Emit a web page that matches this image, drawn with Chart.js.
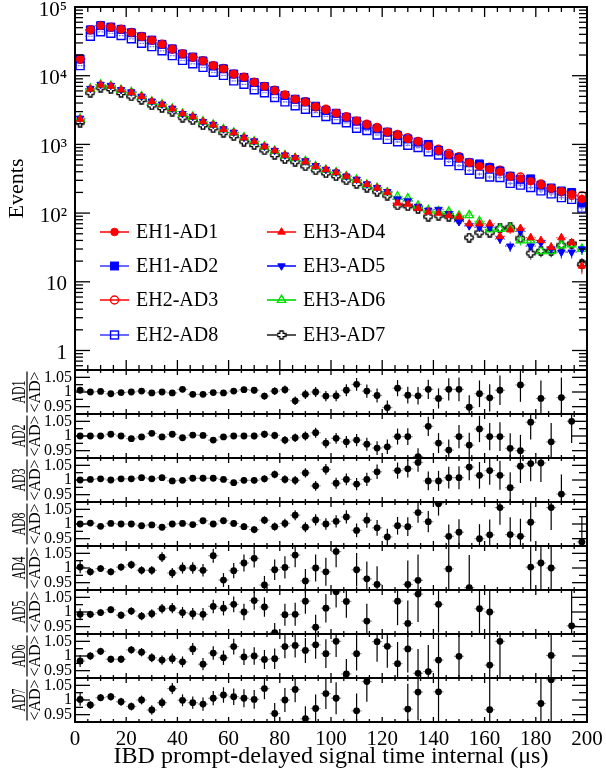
<!DOCTYPE html>
<html>
<head>
<meta charset="utf-8">
<script src="https://cdn.jsdelivr.net/npm/chart.js@4.4.1/dist/chart.umd.min.js"></script>
<style>
  html, body { margin: 0; padding: 0; background: #fff; }
  #wrap { position: relative; width: 606px; height: 773px; }
</style>
</head>
<body>
<div id="wrap"><canvas id="c" width="606" height="773"></canvas></div>
<script>
// bin centres (us)
const timeBins = [2, 6, 10, 14, 18, 22, 26, 30, 34, 38, 42, 46, 50, 54, 58, 62, 66, 70, 74, 78,
  82, 86, 90, 94, 98, 102, 106, 110, 114, 118, 122, 126, 130, 134, 138, 142, 146, 150, 154, 158,
  162, 166, 170, 174, 178, 182, 186, 190, 194, 198];

const seriesNames = ['EH1-AD1', 'EH1-AD2', 'EH2-AD3', 'EH2-AD8', 'EH3-AD4', 'EH3-AD5', 'EH3-AD6', 'EH3-AD7'];

// events per bin, top panel
const eventsAD1 = [17500, 46400, 53500, 50700, 47300, 42400, 37000, 32800, 28700, 24500,
  20800, 18600, 16400, 14000, 12600, 10600, 9500, 8000, 6950, 6070,
  5250, 4550, 4110, 3560, 3180, 2850, 2500, 2200, 1950, 1720,
  1520, 1360, 1200, 1100, 950, 810, 710, 625, 540, 480,
  440, 400, 340, 318, 290, 258, 230, 208, 188, 160];
const eventsAD2 = [17600, 46500, 53600, 51000, 47300, 42200, 36900, 33000, 28600, 24600,
  20700, 18700, 16400, 13800, 12600, 10600, 9450, 7950, 6950, 6050,
  5150, 4550, 4140, 3600, 3100, 2840, 2480, 2180, 1900, 1680,
  1510, 1340, 1200, 1080, 1000, 820, 700, 640, 540, 520,
  460, 410, 345, 310, 315, 255, 232, 210, 200, 140];
const eventsAD3 = [17300, 46200, 53700, 50600, 47500, 42500, 37200, 32700, 28800, 24300,
  20800, 18500, 16500, 14000, 12700, 10500, 9500, 8050, 6980, 6150,
  5250, 4520, 4200, 3500, 3250, 2830, 2520, 2180, 1960, 1760,
  1500, 1400, 1250, 1100, 960, 850, 740, 660, 545, 500,
  465, 420, 345, 335, 305, 265, 228, 205, 182, 178];
const eventsAD8 = [14000, 37500, 43500, 41500, 38400, 34400, 29600, 26500, 23000, 19600,
  16700, 14900, 13200, 11200, 10100, 8400, 7500, 6250, 5650, 4800,
  4150, 3650, 3250, 2900, 2550, 2300, 2060, 1720, 1590, 1370,
  1180, 1090, 970, 900, 780, 700, 560, 490, 420, 370,
  335, 330, 270, 255, 235, 210, 190, 168, 158, 118];
const eventsAD4 = [2330, 6400, 7350, 7050, 6250, 5700, 5000, 4250, 3800, 3300,
  2800, 2530, 2150, 1920, 1650, 1480, 1250, 1100, 930, 810,
  700, 640, 560, 480, 430, 390, 345, 300, 262, 232,
  200, 140, 135, 118, 104, 100, 92, 88, 70, 70,
  70, 46, 57, 60, 44, 40, 32, 44, 37, 17];
const eventsAD5 = [2400, 6500, 7450, 7200, 6250, 5800, 5000, 4250, 3850, 3350,
  2800, 2550, 2150, 1950, 1680, 1500, 1260, 1120, 940, 815,
  700, 640, 575, 490, 432, 395, 345, 310, 265, 235,
  205, 160, 150, 125, 110, 113, 98, 75, 65, 62,
  62, 42, 33, 54, 33, 37, 30, 27, 27, 30];
const eventsAD6 = [2350, 6450, 7400, 7100, 6200, 5750, 5000, 4200, 3800, 3300,
  2780, 2520, 2150, 1930, 1660, 1480, 1260, 1100, 930, 805,
  690, 630, 570, 480, 425, 392, 342, 305, 260, 232,
  200, 174, 163, 128, 110, 106, 105, 92, 93, 76,
  58, 59, 60, 40, 40, 28, 28, 34, 35, 30];
const eventsAD7 = [2080, 5650, 6700, 6400, 5600, 5000, 4450, 3700, 3400, 3000,
  2450, 2250, 1900, 1720, 1480, 1320, 1100, 980, 820, 700,
  610, 560, 480, 420, 380, 345, 300, 265, 235, 205,
  180, 129, 126, 115, 89, 92, 89, 82, 44, 52,
  52, 60, 62, 43, 26, 28, 28, 34, 36, 18];

// AD / <AD> ratio panels (null = outside the panel range)
const ratioNames = ['AD1', 'AD2', 'AD3', 'AD8', 'AD4', 'AD5', 'AD6', 'AD7'];
const ratioAD1 = [1.006, 1.0, 1.002, 0.994, 0.998, 1.0, 1.003, 0.997, 1.0, 0.997,
  1.009, 0.992, 0.992, 0.998, 0.997, 1.003, 1.008, 1.006, 0.986, 1.003,
  1.008, 0.970, 0.992, 1.0, 0.986, 0.987, 1.006, 1.026, 1.003, 0.988,
  0.947, 1.013, 0.989, 0.987, 1.009, 0.978, 1.009, 1.009, 0.948, 0.994,
  0.980, 1.006, null, 1.024, null, 0.978, null, 0.981, null, null];
const ratioAD2 = [1.0, 1.0, 1.0, 1.006, 1.0, 0.991, 0.997, 1.009, 0.997, 1.006,
  0.994, 1.003, 1.002, 0.986, 0.997, 1.0, 1.0, 1.0, 1.006, 1.002,
  0.986, 0.994, 1.0, 1.011, 0.976, 0.992, 0.980, 0.986, 0.972, 0.959,
  0.963, 0.998, 0.998, 0.930, 1.033, 0.976, 0.952, 0.998, 0.969, 1.024,
  0.998, 0.998, 0.958, 0.950, 1.047, null, 0.980, null, 1.050, null];
const ratioAD3 = [1.0, 1.002, 1.004, 1.0, 1.004, 1.004, 1.008, 1.004, 1.008, 0.997,
  0.999, 1.006, 1.006, 1.006, 1.002, 0.991, 0.999, 0.999, 1.004, 1.019,
  1.002, 0.999, 1.024, 0.980, 1.036, 0.989, 1.002, 0.986, 1.002, 1.028,
  null, 1.032, 1.038, 1.060, 0.997, 0.997, 1.008, 1.008, 1.044, 1.016,
  1.032, 1.016, 0.974, 1.047, 1.056, 1.058, null, 0.952, null, null];
const ratioAD8 = [1.0, 1.003, 0.992, 1.002, 1.0, 1.0, 0.994, 0.997, 0.989, 1.0,
  1.002, 0.998, 1.011, 1.0, 1.011, 1.002, 0.991, 0.981, 1.013, 0.991,
  1.002, 1.030, 0.989, 1.014, 1.0, 1.009, 1.024, 0.978, 1.013, 0.987,
  0.956, 0.994, 0.991, 1.039, 1.008, 1.069, 0.958, 0.972, null, 0.950,
  0.963, 1.056, 0.964, 0.958, 1.006, null, 1.056, null, null, 0.939];
const ratioAD4 = [1.003, 0.987, 0.998, 0.987, 1.003, 1.011, 0.992, 0.992, 1.037, 0.983,
  1.0, 1.0, 0.992, 1.042, 0.959, 0.991, 1.017, 1.033, 0.942, 0.994,
  1.002, 1.044, 0.956, 1.0, 0.987, 1.056, null, 0.994, 0.963, 0.944,
  null, null, 0.944, 0.958, null, null, 0.997, null, 0.933, null,
  null, null, null, null, 1.003, 1.017, 1.0, null, null, null];
const ratioAD5 = [0.992, 0.992, 0.998, 1.008, 0.989, 1.003, 0.986, 0.994, 1.011, 1.013,
  0.998, 0.994, 0.992, 1.019, 1.013, 1.026, 1.0, 1.039, 1.017, 0.930,
  0.991, 0.992, 1.037, 0.948, 1.013, 1.069, 1.036, null, 0.969, null,
  null, 1.037, 0.961, 1.061, null, 1.026, null, null, null, 1.011,
  1.0, null, null, null, null, null, null, null, 0.953, null];
const ratioAD6 = [0.983, 1.0, 1.016, 0.989, 0.989, 1.021, 1.013, 0.994, 0.986, 0.991,
  0.980, 1.024, 0.972, 1.010, 0.994, 1.032, 0.997, 1.0, 0.988, 0.991,
  1.032, 1.036, 1.019, 1.038, 1.008, 1.050, 0.939, 1.008, null, 1.049,
  1.033, 0.974, 1.024, 0.941, 0.947, 0.986, null, 0.999, null, null,
  0.969, 1.050, null, null, null, null, 1.002, null, null, null];
const ratioAD7 = [1.002, 0.983, 1.008, 1.011, 0.994, 0.978, 1.0, 0.966, 0.991, 1.039,
  0.999, 0.991, 0.986, 1.006, 1.017, 1.011, 1.006, 1.002, 1.039, 0.954,
  1.0, 1.036, 0.936, 0.971, 1.022, 1.006, null, 0.963, 1.063, null,
  null, null, 0.969, 1.027, null, 1.028, null, null, null, null,
  0.967, null, null, null, null, 0.988, 1.069, null, null, null];

const xTickLabels = [0, 20, 40, 60, 80, 100, 120, 140, 160, 180, 200];
const yTopTickLabels = ['1', '10', '10\u00b2', '10\u00b3', '10\u2074', '10\u2075'];
const ratioTickLabels = [0.95, 1, 1.05];

const topSeries = [eventsAD1, eventsAD2, eventsAD3, eventsAD8, eventsAD4, eventsAD5, eventsAD6, eventsAD7];
const ratioData = [ratioAD1, ratioAD2, ratioAD3, ratioAD8, ratioAD4, ratioAD5, ratioAD6, ratioAD7];

const FONT = "'Liberation Serif', 'Times New Roman', serif";

// open cross marker (ROOT style)
function makeCross(size, stroke) {
  const c = document.createElement('canvas');
  c.width = c.height = size;
  const g = c.getContext('2d');
  const a = size * 0.33, b = size * 0.67, e = size - 1;
  g.beginPath();
  g.moveTo(a, 1); g.lineTo(b, 1); g.lineTo(b, a); g.lineTo(e, a); g.lineTo(e, b); g.lineTo(b, b);
  g.lineTo(b, e); g.lineTo(a, e); g.lineTo(a, b); g.lineTo(1, b); g.lineTo(1, a); g.lineTo(a, a);
  g.closePath();
  g.fillStyle = '#fff'; g.fill();
  g.strokeStyle = stroke; g.lineWidth = 1.3; g.stroke();
  return c;
}
const crossImg = makeCross(10, '#000');

const styles = [
  { color: '#ff0000', err: '#ff4040', shape: 'circle', fill: true, r: 3.8 },
  { color: '#0000ff', err: '#6a6aff', shape: 'rect', fill: true, r: 5.6 },
  { color: '#ff0000', err: '#ff4040', shape: 'circle', fill: false, r: 4 },
  { color: '#0000ff', err: '#6a6aff', shape: 'rect', fill: false, r: 5.6 },
  { color: '#ff0000', err: '#ff4040', shape: 'triangle', fill: true, r: 4.3 },
  { color: '#0000ff', err: '#4040ff', shape: 'triangle', rot: 180, fill: true, r: 4.3 },
  { color: '#00e000', err: '#30e030', shape: 'triangle', fill: false, r: 4.8 },
  { color: '#000000', err: '#555555', shape: crossImg, fill: false, r: 5 }
];

const datasets = [];
topSeries.forEach((arr, k) => {
  const st = styles[k];
  datasets.push({
    label: seriesNames[k],
    yAxisID: 'yTop',
    adIndex: k,
    isRatio: false,
    errColor: st.err,
    data: timeBins.map((t, i) => ({ x: t, y: arr[i] })),
    pointStyle: st.shape,
    pointRotation: st.rot || 0,
    pointRadius: st.r,
    pointBackgroundColor: st.fill ? st.color : 'rgba(255,255,255,0)',
    pointBorderColor: st.color,
    pointBorderWidth: st.fill ? 1 : 1.4,
    showLine: false
  });
});
ratioData.forEach((arr, k) => {
  datasets.push({
    label: ratioNames[k] + '/<AD>',
    yAxisID: 'r' + (k + 1),
    adIndex: k,
    isRatio: true,
    errColor: '#000',
    data: timeBins.map((t, i) => ({ x: t, y: arr[i] })),
    pointStyle: 'circle',
    pointRadius: 3.4,
    pointBackgroundColor: '#000',
    pointBorderColor: '#000',
    pointBorderWidth: 0,
    showLine: false
  });
});

// no automatic label-overflow padding: keep the panel edges where they belong
function noPad(s) {
  s.paddingTop = 0; s.paddingBottom = 0; s.paddingLeft = 0; s.paddingRight = 0;
}

const scales = {
  x: {
    type: 'linear', position: 'bottom', min: 0, max: 200,
    afterBuildTicks: (axis) => {
      const t = [];
      for (let v = 0; v <= 200; v += 5) t.push({ value: v });
      axis.ticks = t;
    },
    ticks: {
      autoSkip: false, maxRotation: 0, padding: 5, color: '#000',
      font: { family: FONT, size: 21 },
      callback: (v) => xTickLabels.includes(v) ? String(v) : ''
    },
    grid: { display: false, drawTicks: false, tickLength: 0 },
    border: { display: false },
    title: {
      display: true, text: 'IBD prompt-delayed signal time internal (\u03bcs)', color: '#000',
      font: { family: FONT, size: 24 }, padding: { top: 0, bottom: 2 }
    },
    afterFit: (s) => { s.height = 51; noPad(s); }
  },
  yTop: {
    type: 'logarithmic', position: 'left', stack: 'v', stackWeight: 363, weight: 10,
    min: 0.52, max: 100000,
    afterBuildTicks: (axis) => {
      const t = [0.6, 0.7, 0.8, 0.9];
      for (let e = 0; e < 5; e++) for (let m = 1; m < 10; m++) t.push(m * Math.pow(10, e));
      t.push(100000);
      axis.ticks = t.map(v => ({ value: v }));
    },
    ticks: {
      autoSkip: false, padding: 8, labelOffset: 3, color: '#000',
      font: { family: FONT, size: 21 },
      callback: (v) => {
        const e = Math.log10(v);
        return Math.abs(e - Math.round(e)) < 1e-9 ? yTopTickLabels[Math.round(e)] : '';
      }
    },
    grid: { display: false, drawTicks: false, tickLength: 0 },
    border: { display: false },
    title: { display: true, text: 'Events', color: '#000', font: { family: FONT, size: 22 }, padding: { top: 4, bottom: 0 } },
    afterFit: (s) => { s.width = 75; noPad(s); }
  }
};
for (let k = 0; k < 8; k++) {
  scales['r' + (k + 1)] = {
    type: 'linear', position: 'left', stack: 'v', stackWeight: 44, weight: 8 - k,
    min: 0.925, max: 1.075,
    afterBuildTicks: (axis) => {
      axis.ticks = [0.95, 0.975, 1, 1.025, 1.05].map(v => ({ value: v }));
    },
    ticks: {
      autoSkip: false, padding: 3, color: '#000',
      font: { family: FONT, size: 16 },
      callback: (v) => {
        const r = Math.round(v * 1000) / 1000;
        return ratioTickLabels.includes(r) ? String(r) : '';
      }
    },
    grid: { display: false, drawTicks: false, tickLength: 0 },
    border: { display: false },
    afterFit: (s) => { s.width = 75; noPad(s); }
  };
}

function seg(ctx, x1, y1, x2, y2) {
  ctx.beginPath(); ctx.moveTo(x1, y1); ctx.lineTo(x2, y2); ctx.stroke();
}

function drawMarker(ctx, st, x, y) {
  ctx.save();
  ctx.fillStyle = st.fill ? st.color : '#fff';
  ctx.strokeStyle = st.color;
  ctx.lineWidth = st.fill ? 1 : 1.4;
  if (st.shape === 'circle') {
    ctx.beginPath(); ctx.arc(x, y, st.r, 0, Math.PI * 2);
    if (st.fill) ctx.fill(); ctx.stroke();
  } else if (st.shape === 'rect') {
    const h = st.r * Math.SQRT1_2;
    if (st.fill) ctx.fillRect(x - h, y - h, 2 * h, 2 * h);
    ctx.strokeRect(x - h, y - h, 2 * h, 2 * h);
  } else if (st.shape === 'triangle') {
    const r = st.r, s = st.rot ? -1 : 1;
    ctx.beginPath();
    ctx.moveTo(x, y - s * r);
    ctx.lineTo(x + r * 0.87, y + s * r * 0.5);
    ctx.lineTo(x - r * 0.87, y + s * r * 0.5);
    ctx.closePath();
    if (st.fill) ctx.fill(); ctx.stroke();
  } else {
    ctx.drawImage(st.shape, x - st.shape.width / 2, y - st.shape.height / 2);
  }
  ctx.restore();
}

const decor = {
  id: 'decor',
  beforeDatasetsDraw(chart) {
    const ctx = chart.ctx, xs = chart.scales.x, area = chart.chartArea;
    chart.data.datasets.forEach((ds) => {
      const ys = chart.scales[ds.yAxisID];
      ctx.save();
      ctx.beginPath();
      ctx.rect(area.left, ys.top, area.right - area.left, ys.bottom - ys.top);
      ctx.clip();
      ds.data.forEach((p, j) => {
        if (p.y === null || p.y === undefined) return;
        const n = topSeries[ds.adIndex][j];
        const err = ds.isRatio ? p.y / Math.sqrt(n) : Math.sqrt(p.y);
        const px = xs.getPixelForValue(p.x);
        const py = ys.getPixelForValue(p.y);
        ctx.lineWidth = 1.2;
        ctx.strokeStyle = ds.errColor;
        ctx.setLineDash([]);
        seg(ctx, px, ys.getPixelForValue(p.y + err), px, ys.getPixelForValue(Math.max(p.y - err, ys.min)));
        if (ds.isRatio) {
          ctx.strokeStyle = '#9a9a9a';
        } else {
          ctx.setLineDash([1.5, 1.5]);
        }
        seg(ctx, xs.getPixelForValue(p.x - 2), py, xs.getPixelForValue(p.x + 2), py);
      });
      ctx.restore();
    });
  },
  afterDatasetsDraw(chart) {
    const ctx = chart.ctx, xs = chart.scales.x, area = chart.chartArea;
    const panels = ['yTop', 'r1', 'r2', 'r3', 'r4', 'r5', 'r6', 'r7', 'r8'];
    ctx.save();
    ctx.strokeStyle = '#000';
    panels.forEach((id, pi) => {
      const ys = chart.scales[id];
      const big = pi === 0;
      // y ticks, both sides, inward
      ctx.lineWidth = 1.3;
      ys.ticks.forEach((t) => {
        if (t.value < ys.min || t.value > ys.max) return;
        const py = ys.getPixelForValue(t.value);
        const len = t.label ? 15 : 8;
        seg(ctx, area.left, py, area.left + len, py);
        seg(ctx, area.right, py, area.right - len, py);
      });
      // x ticks at top and bottom of every panel
      xs.ticks.forEach((t) => {
        const px = xs.getPixelForValue(t.value);
        const major = t.value % 20 === 0;
        const len = big ? (major ? 10 : 5) : (major ? 5 : 3);
        seg(ctx, px, ys.top, px, ys.top + len);
        seg(ctx, px, ys.bottom, px, ys.bottom - len);
      });
      ctx.lineWidth = 2;
      ctx.strokeRect(area.left, ys.top, area.right - area.left, ys.bottom - ys.top);
    });
    ctx.restore();
  },
  afterDraw(chart) {
    const ctx = chart.ctx, area = chart.chartArea;
    // legend, two columns inside the top panel
    ctx.save();
    const rowsY = [232, 266, 300, 335];
    seriesNames.forEach((name, k) => {
      const col = k < 4 ? 0 : 1;
      const x0 = area.left + (col ? 192 : 25);
      const y = rowsY[k % 4];
      const st = styles[k];
      ctx.strokeStyle = st.err;
      ctx.lineWidth = 2;
      ctx.setLineDash([]);
      seg(ctx, x0, y, x0 + 29, y);
      drawMarker(ctx, st, x0 + 14.5, y);
      ctx.fillStyle = '#000';
      ctx.font = '20px ' + FONT;
      ctx.textAlign = 'left';
      ctx.textBaseline = 'middle';
      ctx.fillText(name, x0 + 36, y + 1);
    });
    ctx.restore();
    // ratio-panel titles: AD / <AD>
    for (let k = 0; k < 8; k++) {
      const ys = chart.scales['r' + (k + 1)];
      const cy = (ys.top + ys.bottom) / 2;
      ctx.save();
      ctx.translate(27, cy);
      ctx.rotate(-Math.PI / 2);
      ctx.fillStyle = '#000';
      ctx.strokeStyle = '#000';
      ctx.textAlign = 'center';
      // numerator, tall and narrow as in the original
      ctx.save();
      ctx.scale(0.66, 1);
      ctx.font = '18px ' + FONT;
      ctx.textBaseline = 'alphabetic';
      ctx.fillText(ratioNames[k], 0, -2);
      ctx.restore();
      ctx.font = '16px ' + FONT;
      const w = ctx.measureText('<AD>').width;
      ctx.lineWidth = 1.2;
      seg(ctx, -w / 2, 0, w / 2, 0);
      ctx.textBaseline = 'top';
      ctx.fillText('<AD>', 0, 1);
      ctx.restore();
    }
  }
};

new Chart(document.getElementById('c'), {
  type: 'scatter',
  data: { datasets },
  options: {
    responsive: false,
    animation: false,
    devicePixelRatio: 1,
    layout: { padding: { top: 7, right: 19, bottom: 0, left: 0 } },
    plugins: { legend: { display: false }, tooltip: { enabled: false } },
    scales
  },
  plugins: [decor]
});
</script>
</body>
</html>
